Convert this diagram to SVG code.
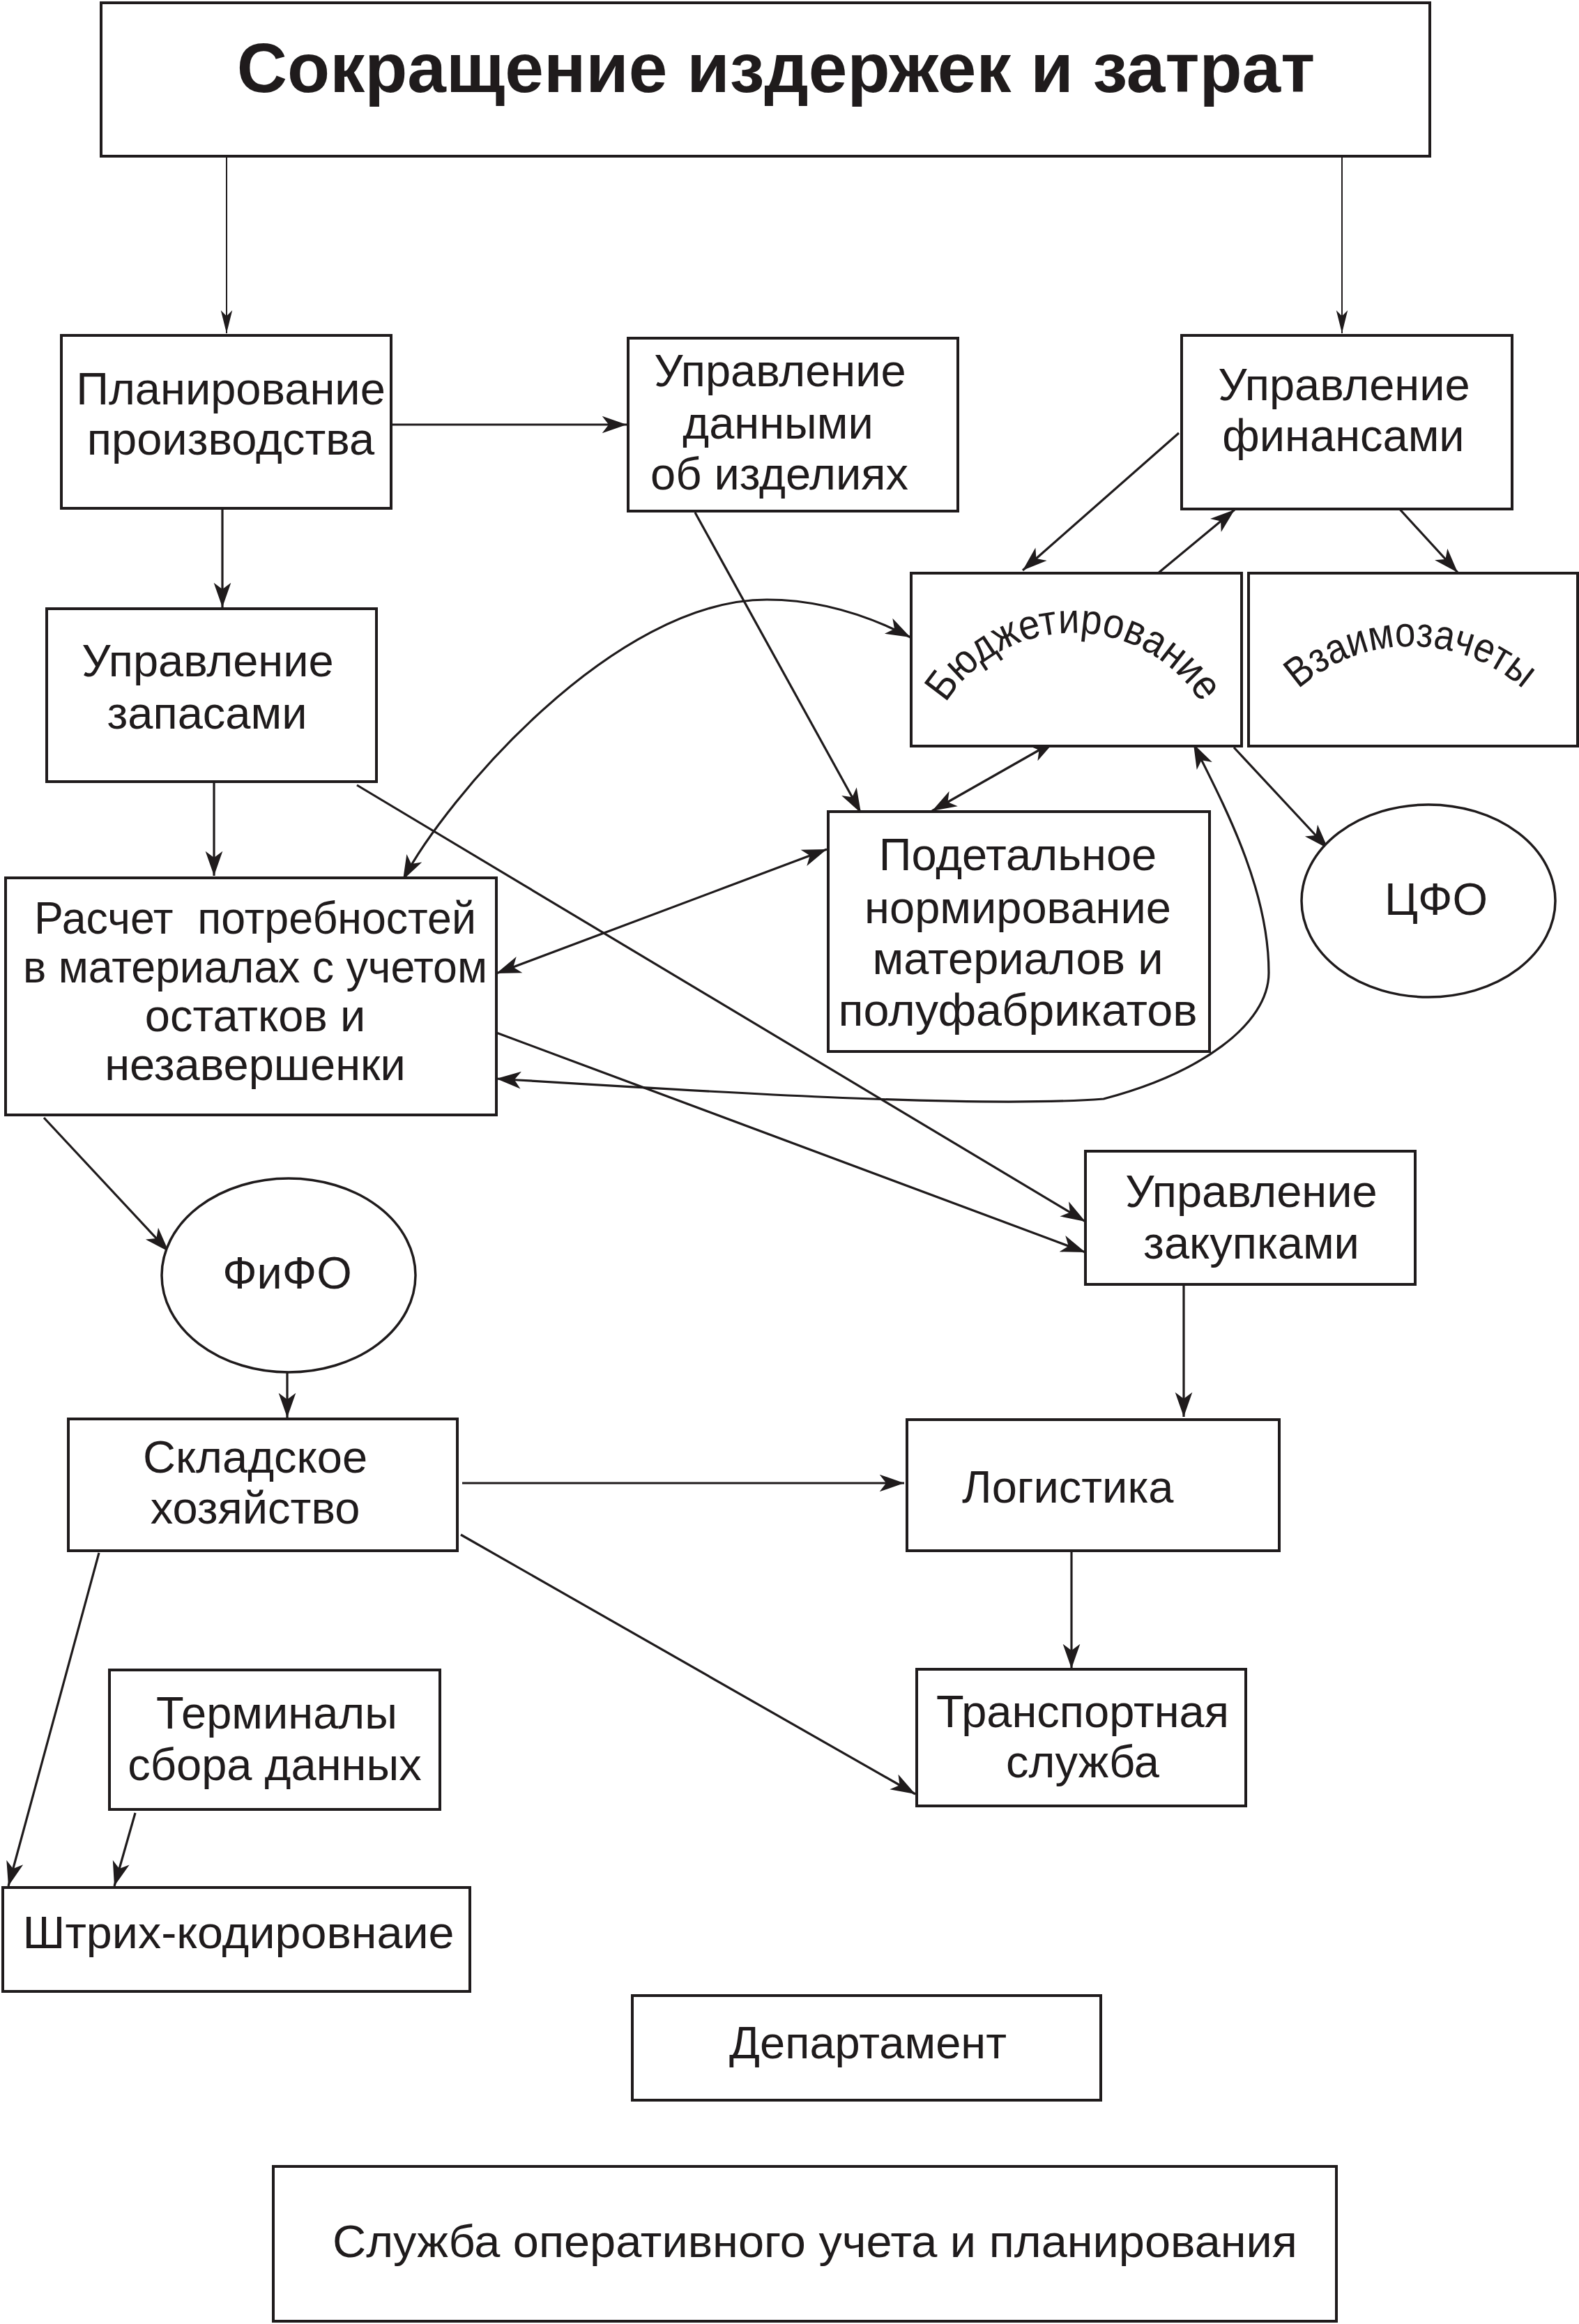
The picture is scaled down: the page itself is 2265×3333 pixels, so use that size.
<svg xmlns="http://www.w3.org/2000/svg" xmlns:xlink="http://www.w3.org/1999/xlink" width="2265" height="3333" viewBox="0 0 2265 3333">
<style>
.box{fill:#fff;stroke:#1f1b1c;stroke-width:4}
.ell{fill:#fff;stroke:#1f1b1c;stroke-width:3.5}
.t{font-family:"Liberation Sans",Arial,sans-serif;font-size:65px;fill:#1f1b1c;text-anchor:middle}
.arc{font-family:"Liberation Sans",Arial,sans-serif;font-size:60px;fill:#1f1b1c}
.c{fill:none;stroke:#1f1b1c;stroke-width:3.2}
.ct{fill:none;stroke:#1f1b1c;stroke-width:2}
</style>
<defs>
<marker id="ah" markerUnits="userSpaceOnUse" markerWidth="40" markerHeight="30" viewBox="-32 -12 34 24" refX="0" refY="0" orient="auto-start-reverse">
<path d="M0,0 L-30,-10.5 L-22,0 L-30,10.5 Z" fill="#1f1b1c"/>
</marker>
<marker id="ahs" markerUnits="userSpaceOnUse" markerWidth="40" markerHeight="30" viewBox="-32 -12 34 24" refX="0" refY="0" orient="auto">
<path d="M0,0 L-28,-7 L-21,0 L-28,7 Z" fill="#1f1b1c"/>
</marker>
<path id="arcB" d="M1357,1008 A217,217 0 0,1 1723,1008"/>
<path id="arcV" d="M1862,989 A241,241 0 0,1 2185,989"/>
</defs>
<rect width="2265" height="3333" fill="#fff"/>

<g id="connectors">
<path class="ct" d="M325,225 L325,478" marker-end="url(#ahs)"/>
<path class="ct" d="M1925,225 L1925,478" marker-end="url(#ahs)"/>
<path class="c" d="M561,609 L899,609" marker-end="url(#ah)"/>
<path class="c" d="M319,729 L319,871" marker-end="url(#ah)"/>
<path class="c" d="M307,1122 L307,1256" marker-end="url(#ah)"/>
<path class="c" d="M512,1126 L1557,1752" marker-end="url(#ah)"/>
<path class="c" d="M997,735 L1235,1166" marker-end="url(#ah)"/>
<path class="c" d="M1691,621 L1467,818" marker-end="url(#ah)"/>
<path class="c" d="M1660,823 L1771,731" marker-end="url(#ah)"/>
<path class="c" d="M2003,725 L2091,821" marker-end="url(#ah)"/>
<path class="c" d="M1770,1072 L1905,1217" marker-end="url(#ah)"/>
<path class="c" d="M1337,1163 L1513,1063" marker-start="url(#ah)" marker-end="url(#ah)"/>
<path class="c" d="M712,1396 L1186,1218" marker-start="url(#ah)" marker-end="url(#ah)"/>
<path class="c" d="M578,1262 C638,1147 880,860 1100,860 C1180,860 1250,885 1306,914" marker-start="url(#ah)" marker-end="url(#ah)"/>
<path class="c" d="M1712,1067 C1757,1157 1820,1275 1820,1395 C1820,1470 1720,1540 1583,1576 C1400,1590 1000,1565 712,1547" marker-start="url(#ah)" marker-end="url(#ah)"/>
<path class="c" d="M712,1481 L1557,1796" marker-end="url(#ah)"/>
<path class="c" d="M63,1603 L242,1795" marker-end="url(#ah)"/>
<path class="c" d="M412,1967 L412,2033" marker-end="url(#ah)"/>
<path class="c" d="M1698,1844 L1698,2032" marker-end="url(#ah)"/>
<path class="c" d="M663,2127 L1297,2127" marker-end="url(#ah)"/>
<path class="c" d="M661,2201 L1313,2573" marker-end="url(#ah)"/>
<path class="c" d="M1537,2224 L1537,2393" marker-end="url(#ah)"/>
<path class="c" d="M142,2227 L12,2705" marker-end="url(#ah)"/>
<path class="c" d="M194,2600 L164,2705" marker-end="url(#ah)"/>
</g>

<g id="title">
<rect class="box" x="145" y="4" width="1906" height="220"/>
<text x="1113" y="132" style="font-family:'Liberation Sans',Arial,sans-serif;font-size:100px;font-weight:bold;fill:#1f1b1c;text-anchor:middle">Сокращение издержек и затрат</text>
</g>

<g id="planirovanie">
<rect class="box" x="88" y="481" width="473" height="248"/>
<text class="t" x="331" y="580">Планирование</text>
<text class="t" x="331" y="652">производства</text>
</g>

<g id="upr-dannymi">
<rect class="box" x="901" y="485" width="473" height="248"/>
<text class="t" x="1119" y="554">Управление</text>
<text class="t" x="1116" y="629">данными</text>
<text class="t" x="1118" y="702">об изделиях</text>
</g>

<g id="upr-finansami">
<rect class="box" x="1695" y="481" width="474" height="249"/>
<text class="t" x="1928" y="574">Управление</text>
<text class="t" x="1927" y="647">финансами</text>
</g>

<g id="upr-zapasami">
<rect class="box" x="67" y="873" width="473" height="248"/>
<text class="t" x="298" y="970">Управление</text>
<text class="t" x="297" y="1045">запасами</text>
</g>

<g id="budzhet">
<rect class="box" x="1307" y="822" width="474" height="248"/>
<text class="arc" textLength="436" lengthAdjust="spacingAndGlyphs"><textPath xlink:href="#arcB" startOffset="50%" text-anchor="middle" textLength="436" lengthAdjust="spacingAndGlyphs">Бюджетирование</textPath></text>
</g>

<g id="vzaimozachety">
<rect class="box" x="1791" y="822" width="472" height="248"/>
<text class="arc"><textPath xlink:href="#arcV" startOffset="50%" text-anchor="middle" textLength="353" lengthAdjust="spacingAndGlyphs">Взаимозачеты</textPath></text>
</g>

<g id="podetalnoe">
<rect class="box" x="1188" y="1164" width="547" height="344"/>
<text class="t" x="1460" y="1248">Подетальное</text>
<text class="t" x="1460" y="1324">нормирование</text>
<text class="t" x="1460" y="1397">материалов и</text>
<text class="t" x="1460" y="1471" textLength="515" lengthAdjust="spacingAndGlyphs">полуфабрикатов</text>
</g>

<g id="cfo">
<ellipse class="ell" cx="2049" cy="1292" rx="182" ry="138"/>
<text class="t" x="2060" y="1312">ЦФО</text>
</g>

<g id="raschet">
<rect class="box" x="8" y="1259" width="704" height="340"/>
<text class="t" x="366" y="1339" xml:space="preserve" textLength="634" lengthAdjust="spacingAndGlyphs">Расчет  потребностей</text>
<text class="t" x="366" y="1409" textLength="666" lengthAdjust="spacingAndGlyphs">в материалах с учетом</text>
<text class="t" x="366" y="1479">остатков и</text>
<text class="t" x="366" y="1549">незавершенки</text>
</g>

<g id="fifo">
<ellipse class="ell" cx="414" cy="1829" rx="182" ry="139"/>
<text class="t" x="412" y="1848">ФиФО</text>
</g>

<g id="zakupki">
<rect class="box" x="1557" y="1651" width="473" height="191"/>
<text class="t" x="1795" y="1731">Управление</text>
<text class="t" x="1795" y="1805">закупками</text>
</g>

<g id="skladskoe">
<rect class="box" x="98" y="2035" width="558" height="189"/>
<text class="t" x="366" y="2112">Складское</text>
<text class="t" x="366" y="2185">хозяйство</text>
</g>

<g id="logistika">
<rect class="box" x="1301" y="2036" width="534" height="188"/>
<text class="t" x="1380" y="2155" style="text-anchor:start">Логистика</text>
</g>

<g id="terminaly">
<rect class="box" x="157" y="2395" width="474" height="200"/>
<text class="t" x="397" y="2479">Терминалы</text>
<text class="t" x="394" y="2553">сбора данных</text>
</g>

<g id="transport">
<rect class="box" x="1315" y="2394" width="472" height="196"/>
<text class="t" x="1553" y="2477">Транспортная</text>
<text class="t" x="1553" y="2549">служба</text>
</g>

<g id="shtrih">
<rect class="box" x="4" y="2707" width="670" height="149"/>
<text class="t" x="342" y="2794" textLength="619" lengthAdjust="spacingAndGlyphs">Штрих-кодировнаие</text>
</g>

<g id="departament">
<rect class="box" x="907" y="2862" width="672" height="150"/>
<text class="t" x="1245" y="2952">Департамент</text>
</g>

<g id="sluzhba">
<rect class="box" x="392" y="3107" width="1525" height="222"/>
<text class="t" x="1169" y="3237" textLength="1384" lengthAdjust="spacingAndGlyphs">Служба оперативного учета и планирования</text>
</g>
</svg>
